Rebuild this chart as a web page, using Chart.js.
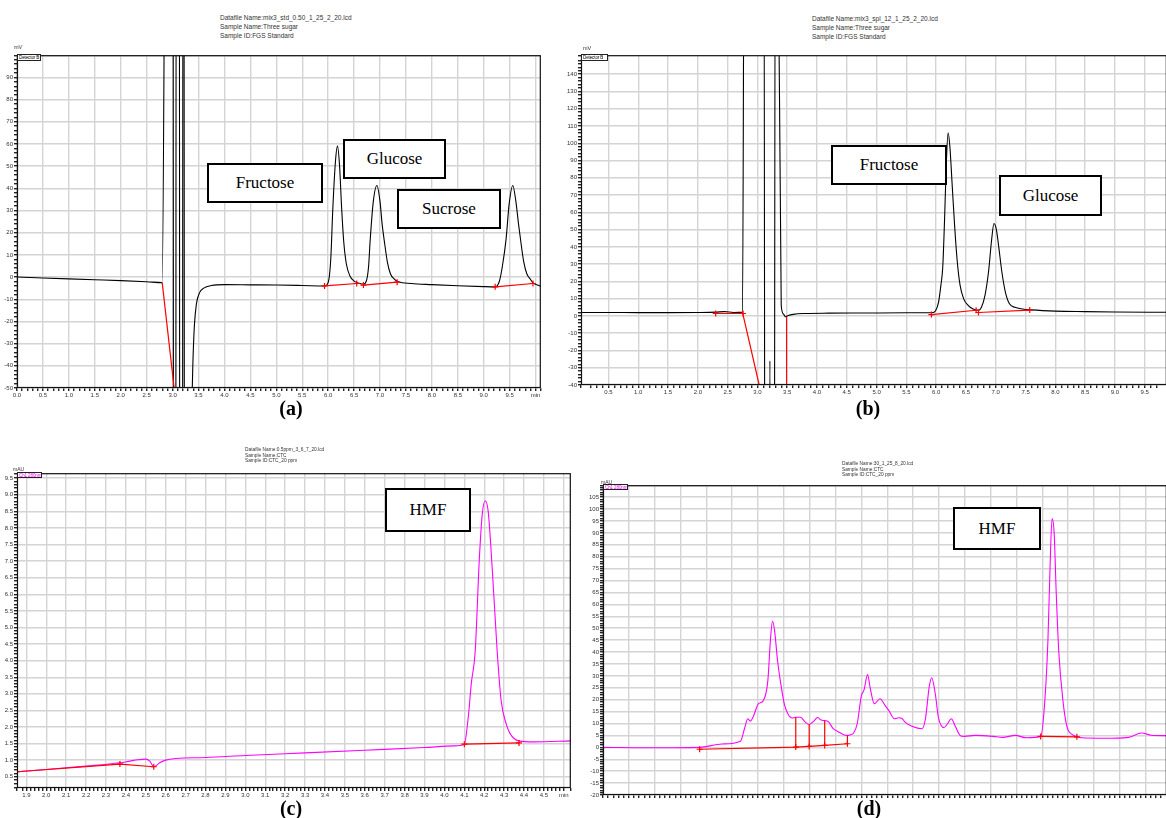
<!DOCTYPE html>
<html lang="en">
<head>
<meta charset="UTF-8">
<title>HPLC chromatograms</title>
<script src="https://cdn.jsdelivr.net/npm/chart.js"></script>
<style>
  body { margin: 0; width: 1166px; height: 818px; overflow: hidden; position: relative; background: #fff; font-family: "Liberation Sans", Arial, sans-serif; }
  canvas { position: absolute; }
  .hdr { position: absolute; font-family: "Liberation Sans Narrow", "Liberation Sans", Arial, sans-serif; color: #333; white-space: nowrap; }
  .unit { position: absolute; font-size: 5.5px; color: #333; }
  .det { position: absolute; border: 1px solid #222; font-family: "Liberation Sans Narrow", "Liberation Sans", sans-serif; font-size: 4.5px; line-height: 5px; letter-spacing: -0.1px; padding: 0 1px; background: #fff; box-sizing: border-box; white-space: nowrap; overflow: hidden; }
  .tag { position: absolute; border: 2px solid #000; background: #fff; font-family: "Liberation Serif", "Times New Roman", serif; font-size: 17px; display: flex; align-items: center; justify-content: center; box-sizing: border-box; }
  .lbl { position: absolute; width: 40px; text-align: center; font-family: "Liberation Serif", "Times New Roman", serif; font-weight: bold; font-size: 20px; }
</style>
</head>
<body>
  <!-- (a) -->
  <div class="hdr" style="left:220px;top:13px;font-size:6.5px;line-height:9.2px">Datafile Name:mix3_std_0.50_1_25_2_20.lcd<br>Sample Name:Three sugar<br>Sample ID:FGS Standard</div>
  <canvas id="chartA"></canvas>
  <div class="unit" style="left:14px;top:44px">mV</div>
  <div class="det" style="left:17px;top:54px;width:24px;height:7px">Detector B</div>
  <div class="tag" style="left:207px;top:163px;width:116px;height:40px">Fructose</div>
  <div class="tag" style="left:343px;top:139px;width:103px;height:40px">Glucose</div>
  <div class="tag" style="left:397px;top:189px;width:104px;height:40px">Sucrose</div>
  <div class="lbl" style="left:271px;top:397px">(a)</div>

  <!-- (b) -->
  <div class="hdr" style="left:812px;top:14px;font-size:6.5px;line-height:9.2px">Datafile Name:mix3_spl_12_1_25_2_20.lcd<br>Sample Name:Three sugar<br>Sample ID:FGS Standard</div>
  <canvas id="chartB"></canvas>
  <div class="unit" style="left:583px;top:45px">mV</div>
  <div class="det" style="left:581px;top:54px;width:27px;height:7px">Detector B</div>
  <div class="tag" style="left:831px;top:145px;width:116px;height:40px">Fructose</div>
  <div class="tag" style="left:999px;top:175px;width:103px;height:41px">Glucose</div>
  <div class="lbl" style="left:848px;top:397px">(b)</div>

  <!-- (c) -->
  <div class="hdr" style="left:245px;top:447px;font-size:4.8px;line-height:5.7px">Datafile Name:0.5ppm_3_6_7_20.lcd<br>Sample Name:CTC<br>Sample ID:CTC_20 ppm</div>
  <canvas id="chartC"></canvas>
  <div class="unit" style="left:13px;top:466px;font-size:5px">mAU</div>
  <div class="det" style="left:17px;top:472px;width:25px;height:6px;color:#ff00ff">Ch1 280nm,4nm</div>
  <div class="tag" style="left:385px;top:488px;width:86px;height:44px">HMF</div>
  <div class="lbl" style="left:271px;top:797px">(c)</div>

  <!-- (d) -->
  <div class="hdr" style="left:842px;top:461px;font-size:4.8px;line-height:5.6px">Datafile Name:30_1_25_8_20.lcd<br>Sample Name:CTC<br>Sample ID:CTC_20 ppm</div>
  <canvas id="chartD"></canvas>
  <div class="unit" style="left:601px;top:479px;font-size:5px">mAU</div>
  <div class="det" style="left:603px;top:484px;width:25px;height:6px;color:#ff00ff">Ch1 280nm,4nm</div>
  <div class="tag" style="left:953px;top:507px;width:88px;height:43px">HMF</div>
  <div class="lbl" style="left:849px;top:797px">(d)</div>

<script>
// (a) standard mix, RI detector
const aTime = [0.0, 0.5, 1.0, 1.5, 2.0, 2.5, 2.80, 2.87, 3.01, 3.02, 3.06, 3.07, 3.13, 3.14, 3.19, 3.20, 3.22, 3.23,
  3.36, 3.39, 3.42, 3.46, 3.52, 3.60, 3.75, 4.0, 4.5, 5.0, 5.5, 5.93, 6.00, 6.05, 6.09, 6.14, 6.18, 6.22, 6.26, 6.30,
  6.35, 6.42, 6.50, 6.60, 6.68, 6.74, 6.78, 6.81, 6.87, 6.94, 7.00, 7.04, 7.09, 7.14, 7.20, 7.28, 7.35, 7.6, 8.0, 8.5,
  9.0, 9.22, 9.30, 9.36, 9.43, 9.49, 9.56, 9.62, 9.67, 9.72, 9.77, 9.83, 9.90, 9.95, 10.05, 10.1];
const aSignal = [0, -0.4, -0.8, -1.2, -1.6, -2.1, -2.5, 200, 200, -200, -200, 200, 200, -200, -200, 200, 200, -200,
  -70, -40, -22, -12, -7, -5, -3.8, -3.4, -3.5, -3.6, -3.8, -4.0, -2.5, 8, 31, 52, 59, 50, 31, 16,
  6, 0.5, -1.8, -2.8, -3.2, -1.5, 5, 16.6, 34, 41.3, 34, 24, 15, 7, 1.5, -1, -2.1, -2.9, -3.4, -3.9,
  -4.3, -4.4, -2, 5, 17, 33, 41.3, 34, 24, 15, 7, 1.5, -1, -2.6, -3.7, -4.2];
const aBaseTime = [5.93, 6.55, null, 6.68, 7.33, null, 9.22, 9.95];
const aBaseSignal = [-4.0, -2.9, null, -3.6, -2.3, null, -4.4, -2.9];
const aDropTime = [2.80, 3.03];
const aDropSignal = [-2.5, -50];

// (b) sample, RI detector
const bTime = [0.04, 0.5, 1.0, 1.5, 2.0, 2.3, 2.45, 2.6, 2.75, 2.78, 3.11, 3.13, 3.19, 3.21, 3.23, 3.28, 3.30, 3.34,
  3.40, 3.44, 3.47, 3.52, 3.6, 3.8, 4.2, 4.8, 5.5, 5.93, 5.99, 6.04, 6.08, 6.11, 6.14, 6.17, 6.20, 6.23, 6.27,
  6.31, 6.35, 6.40, 6.46, 6.54, 6.62, 6.71, 6.76, 6.82, 6.88, 6.93, 6.97, 7.01, 7.05, 7.10, 7.16, 7.23, 7.32, 7.45,
  7.6, 8.0, 8.5, 9.0, 9.87];
const bSignal = [2.0, 2.0, 1.9, 1.9, 2.0, 2.2, 2.5, 2.0, 2.2, 250, 250, -250, -250, -26, -250, -250, 250, 250,
  6, 1, -0.5, 0.3, 0.9, 1.4, 1.6, 1.7, 1.8, 1.8, 3, 8, 18, 28, 55, 88, 106, 98, 75,
  52, 33, 18, 10, 6, 4, 3.2, 5, 12, 26, 44, 53.5, 50, 40, 26, 14, 7, 5, 4,
  3.5, 2.8, 2.5, 2.3, 2.1];
const bBaseTime = [2.30, 2.76, null, 5.92, 6.67, null, 6.71, 7.57];
const bBaseSignal = [1.4, 1.4, null, 0.8, 3.3, null, 2.0, 3.4];
const bDropTime = [2.75, 3.03, null, 3.49, 3.49];
const bDropSignal = [2.0, -40, null, -0.5, -40];

// (c) HMF standard, UV detector
const cTime = [1.853, 2.0, 2.2, 2.37, 2.42, 2.46, 2.50, 2.52, 2.54, 2.57, 2.60, 2.65, 2.8, 3.0, 3.3, 3.6, 3.9, 4.05,
  4.10, 4.12, 4.135, 4.155, 4.175, 4.19, 4.205, 4.22, 4.24, 4.265, 4.285, 4.31, 4.33, 4.375, 4.45, 4.635];
const cSignal = [0.65, 0.72, 0.82, 0.92, 0.97, 1.01, 1.03, 0.97, 0.80, 0.92, 1.0, 1.05, 1.08, 1.14, 1.22, 1.30, 1.38, 1.43,
  1.48, 2.3, 3.3, 4.3, 7.0, 8.4, 8.82, 8.5, 6.8, 4.3, 2.8, 2.1, 1.8, 1.58, 1.55, 1.58];
const cBaseTime = [1.853, 2.37, 2.54, null, 4.10, 4.375];
const cBaseSignal = [0.65, 0.88, 0.80, null, 1.48, 1.52];

// (d) honey sample, UV detector
const dTime = [0.0, 0.9, 1.87, 2.3, 2.66, 2.74, 2.80, 2.85, 2.90, 3.01, 3.10, 3.19, 3.24, 3.28, 3.32, 3.38, 3.44, 3.51,
  3.58, 3.66, 3.73, 3.82, 3.92, 3.99, 4.08, 4.15, 4.22, 4.29, 4.36, 4.45, 4.58, 4.71, 4.78, 4.85, 4.92, 5.00, 5.05,
  5.12, 5.17, 5.25, 5.36, 5.46, 5.53, 5.64, 5.72, 5.78, 5.85, 5.99, 6.17, 6.24, 6.31, 6.36, 6.43, 6.49, 6.60, 6.67,
  6.74, 6.81, 6.91, 6.99, 7.20, 7.55, 7.73, 7.98, 8.19, 8.47, 8.55, 8.61, 8.65, 8.69, 8.73, 8.77, 8.82, 8.90, 8.98,
  9.07, 9.17, 9.26, 9.69, 10.17, 10.42, 10.61, 10.91];
const dSignal = [0.0, -0.2, 0.0, 1.4, 2.6, 8, 12, 11, 12.5, 18.3, 19.5, 28, 45, 53, 49, 36, 26.7, 18,
  14, 12.3, 12.6, 12.6, 10.5, 9.6, 11, 12.5, 11.5, 11.2, 10.8, 8, 6.2, 5, 5.2, 6, 10, 21.7, 24,
  30.5, 25, 18.3, 20.4, 17.5, 15.5, 12, 12.4, 12.2, 10.5, 8.7, 7.8, 12, 25, 29.2, 22.5, 12.6, 8.3, 10,
  12, 9.2, 5, 4.6, 5, 4.6, 4.2, 5, 4, 4.6, 19.6, 45, 75, 96, 90, 65, 40, 19.6, 8.5,
  5.5, 4.5, 4.0, 3.8, 4.2, 6.0, 5.1, 4.9];
const dBaseTime = [1.87, 3.73, 3.99, 4.29, 4.73, null, 8.47, 9.17];
const dBaseSignal = [-0.8, 0.1, 0.4, 0.8, 1.5, null, 4.6, 4.4];
const dDropTime = [3.73, 3.73, null, 3.99, 3.99, null, 4.29, 4.29, null, 4.73, 4.73];
const dDropSignal = [12.6, 0.1, null, 9.6, 0.4, null, 11.2, 0.8, null, 5, 1.5];

const isMult = (v, step) => Math.abs(v / step - Math.round(v / step)) < 1e-6;

function pts(xs, ys) {
  let last = 0;
  return xs.map((x, i) => {
    if (x === null) return { x: last, y: null };
    last = x;
    return { x: x, y: ys[i] };
  });
}

// frame round the plot area
const framePlugin = {
  id: 'frame',
  afterDatasetsDraw(chart) {
    const { ctx, chartArea: a } = chart;
    ctx.save();
    ctx.strokeStyle = '#111';
    ctx.lineWidth = 1.2;
    ctx.strokeRect(a.left + 0.5, a.top + 0.5, a.width - 1, a.height - 1);
    ctx.restore();
  }
};

function axis(min, max, minor, major, fmt, size, horizontal) {
  return {
    type: 'linear', min: min, max: max,
    border: { display: false },
    grid: {
      color: c => (c.tick && isMult(c.tick.value, major)) ? '#d4d4d4' : 'rgba(0,0,0,0)',
      tickColor: '#222', tickLength: 3, lineWidth: 1.4
    },
    ticks: {
      stepSize: minor, autoSkip: false, maxRotation: 0, minRotation: 0, padding: 1,
      font: { size: 6, family: '"Liberation Sans Narrow", "Liberation Sans", Arial' }, color: '#333',
      callback: v => isMult(v, major) ? fmt(v) : ''
    },
    afterFit: s => {
      if (horizontal) { s.height = size; s.paddingLeft = 0; s.paddingRight = 0; }
      else { s.width = size; s.paddingTop = 0; s.paddingBottom = 0; }
    }
  };
}

function makeChart(id, box, datasets, xScale, yScale) {
  const cv = document.getElementById(id);
  const pad = 4;
  cv.width = box.yw + (box.right - box.left) + pad;
  cv.height = pad + (box.bottom - box.top) + box.xh;
  cv.style.left = (box.left - box.yw) + 'px';
  cv.style.top = (box.top - pad) + 'px';
  return new Chart(cv, {
    type: 'line',
    data: { datasets: datasets },
    options: {
      responsive: false,
      animation: false,
      layout: { padding: { top: pad, right: pad, left: 0, bottom: 0 } },
      plugins: { legend: { display: false }, tooltip: { enabled: false } },
      scales: { x: xScale, y: yScale }
    },
    plugins: [framePlugin]
  });
}

function trace(xs, ys, color) {
  return { data: pts(xs, ys), borderColor: color, borderWidth: 1.1, pointRadius: 0,
    cubicInterpolationMode: 'monotone', order: 2 };
}
function baseline(xs, ys) {
  return { data: pts(xs, ys), borderColor: '#ff0000', borderWidth: 1.2, tension: 0,
    pointStyle: 'cross', pointRadius: 3, pointBorderColor: '#ff0000', pointBorderWidth: 1.2, order: 0 };
}
function drops(xs, ys) {
  return { data: pts(xs, ys), borderColor: '#ff0000', borderWidth: 1.2, tension: 0, pointRadius: 0, order: 1 };
}

const fix1 = v => v.toFixed(1);
const int0 = v => String(Math.round(v));

makeChart('chartA', { left: 17, top: 54, right: 542, bottom: 388, yw: 17, xh: 16 },
  [trace(aTime, aSignal, '#000'), baseline(aBaseTime, aBaseSignal), drops(aDropTime, aDropSignal)],
  axis(0, 10.1, 0.1, 0.5, v => v > 9.99 ? 'min' : fix1(v), 16, true),
  axis(-50, 100, 2, 10, v => v >= 100 ? '' : int0(v), 17, false));

makeChart('chartB', { left: 581, top: 54, right: 1168, bottom: 385, yw: 22, xh: 16 },
  [trace(bTime, bSignal, '#000'), baseline(bBaseTime, bBaseSignal), drops(bDropTime, bDropSignal)],
  axis(0.04, 9.87, 0.1, 0.5, fix1, 16, true),
  axis(-40, 151, 2, 10, int0, 22, false));

makeChart('chartC', { left: 17, top: 472, right: 572, bottom: 788, yw: 17, xh: 16 },
  [trace(cTime, cSignal, '#ff00ff'), baseline(cBaseTime, cBaseSignal)],
  axis(1.853, 4.635, 0.02, 0.1, v => Math.abs(v - 4.6) < 1e-6 ? 'min' : fix1(v), 16, true),
  axis(0.16, 9.65, 0.1, 0.5, fix1, 17, false));

makeChart('chartD', { left: 603, top: 484, right: 1168, bottom: 795, yw: 20, xh: 10 },
  [trace(dTime, dSignal, '#ff00ff'), baseline(dBaseTime, dBaseSignal), drops(dDropTime, dDropSignal)],
  axis(0, 10.91, 0.1, 0.5, () => '', 10, true),
  axis(-20, 110, 1, 5, v => v >= 110 ? '' : int0(v), 20, false));
</script>
</body>
</html>
